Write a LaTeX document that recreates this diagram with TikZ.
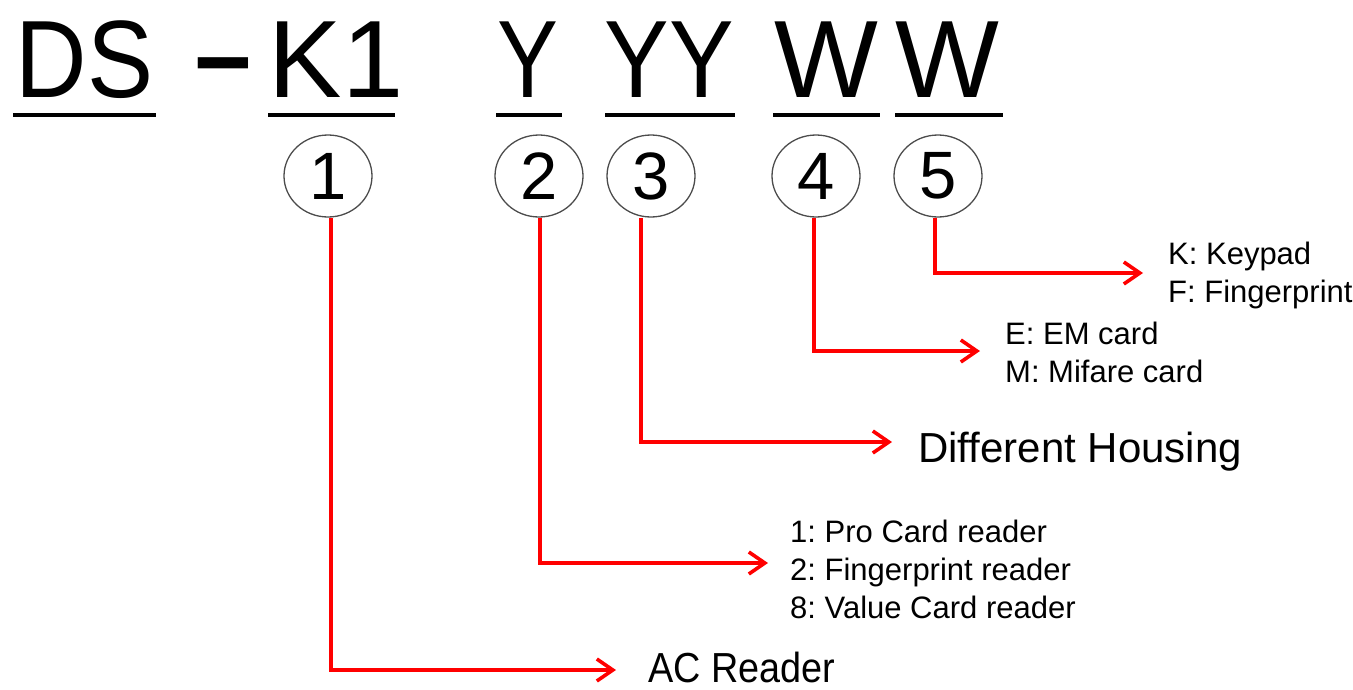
\documentclass[tikz,border=0pt]{standalone}
\usepackage{fontspec}
\setmainfont{Liberation Sans}
\usetikzlibrary{arrows.meta,shapes.geometric}
\frenchspacing
\begin{document}
\begin{tikzpicture}[x=1pt,y=-1pt,
  big/.style={inner sep=0pt, anchor=base, font=\fontsize{110}{110}\selectfont},
  uline/.style={line width=4.5pt},
  circ/.style={ellipse, draw=black!70, line width=1.3pt, minimum width=88pt, minimum height=82pt, inner sep=0pt, font=\fontsize{67}{67}\selectfont},
  conn/.style={draw=red, line width=3.6pt, -{Straight Barb[length=16pt,width=22pt]}},
  lab/.style={inner sep=0pt, anchor=base west, align=left, font=\fontsize{31}{38}\selectfont},
  biglab/.style={inner sep=0pt, anchor=base west, font=\fontsize{42}{42}\selectfont}]
\useasboundingbox (0,0) rectangle (1353,689);

% code letters
\node[big] (ds) at (84.5,97) {\scalebox{0.9}[1]{DS}};
\node[big] (dash) at (223.5,87) {\scalebox{1.8}[0.85]{\bfseries -}};
\node[big] (k1) at (336,97) {K1};
\node[big] (y1) at (528,97) {\scalebox{0.83}[1]{Y}};
\node[big] (yy) at (669,97) {\scalebox{0.88}[1]{YY}};
\node[big] (w1) at (826,97) {W};
\node[big] (w2) at (947,97) {W};

% underlines
\draw[uline] (13,115) -- (156,115);
\draw[uline] (268,115) -- (395,115);
\draw[uline] (496,115) -- (562,115);
\draw[uline] (605,115) -- (735,115);
\draw[uline] (773,115) -- (880,115);
\draw[uline] (895,115) -- (1003,115);

% circled numbers
\node[circ] (c1) at (328,176) {1};
\node[circ] (c2) at (539,176) {2};
\node[circ] (c3) at (651,176) {3};
\node[circ] (c4) at (816,176) {4};
\node[circ] (c5) at (938,176) {5};

% labels (base anchor = last line baseline)
\node[lab] (t5) at (1168,302) {K: Keypad\\F: Fingerprint};
\node[lab] (t4) at (1005,382) {E: EM card\\M: Mifare card};
\node[biglab] (t3) at (918,462) {Different Housing};
\node[lab] (t2) at (790,618) {1: Pro Card reader\\2: Fingerprint reader\\8: Value Card reader};
\node[biglab] (t1) at (648,682) {\scalebox{0.9}[1]{AC Reader}};

% arrow tips
\coordinate (p1) at (616,670);
\coordinate (p2) at (768,563);
\coordinate (p3) at (892,442);
\coordinate (p4) at (980,351);
\coordinate (p5) at (1143,273);

% connectors
\draw[conn] ([xshift=3pt]c1.south) |- (p1);
\draw[conn] ([xshift=1pt]c2.south) |- (p2);
\draw[conn] ([xshift=-10pt]c3.south) |- (p3);
\draw[conn] ([xshift=-2pt]c4.south) |- (p4);
\draw[conn] ([xshift=-3pt]c5.south) |- (p5);
\end{tikzpicture}
\end{document}
